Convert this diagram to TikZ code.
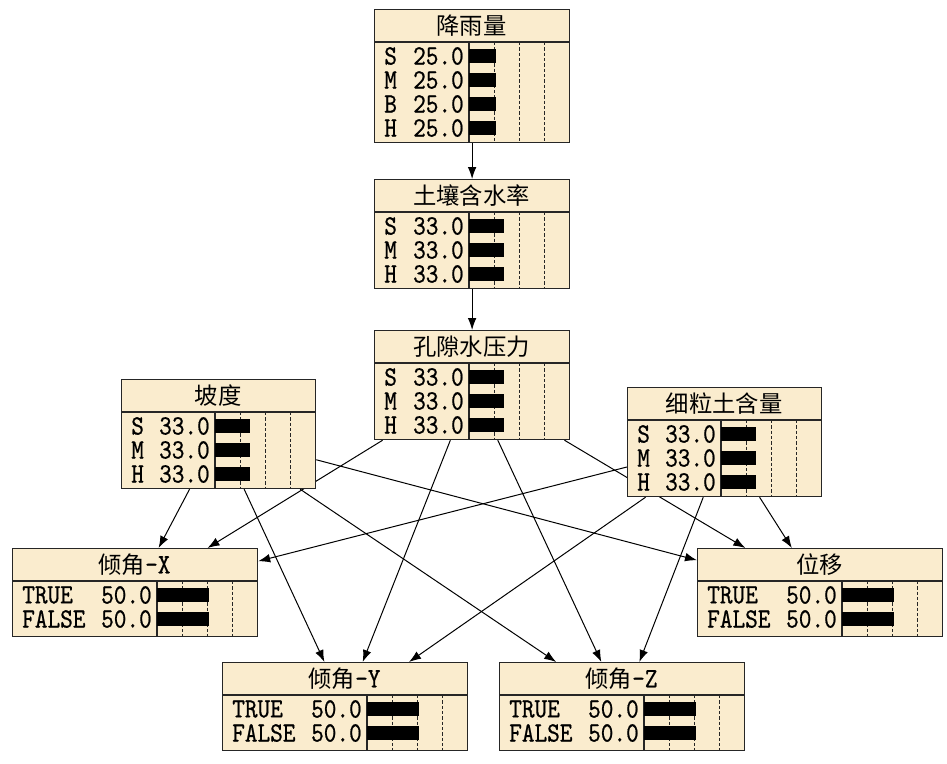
\documentclass[tikz,border=0pt]{standalone}
\usepackage{fontspec}
\newfontfamily\cjk{Noto Sans CJK SC}
\newfontfamily\latinfont[FakeStretch=0.86,FakeBold=0.6]{lmmono10-regular.otf}
\usetikzlibrary{arrows.meta}
\definecolor{bnfill}{RGB}{250,236,206}
\pgfdeclarelayer{back}
\pgfsetlayers{back,main}
\tikzset{
  bnbox/.style={draw=black!85, line width=0.9pt, fill=bnfill, inner sep=0pt, anchor=north west},
  bnline/.style={draw=black!85, line width=0.8pt},
  bndash/.style={draw=black!85, line width=0.6pt, dash pattern=on 2.5pt off 1.5pt},
  bntext/.style={inner sep=0pt, font=\latinfont\fontsize{21}{22}\selectfont},
  bnedge/.style={-{Latex[length=9pt,width=6.5pt]}, line width=0.75pt}
}
\newcommand{\zh}[1]{{\cjk\fontsize{17.5}{20}\selectfont #1}}
\newcommand{\bnnode}[7]{%
  \node[bnbox, minimum width=#4*0.75pt, minimum height=#5*0.75pt] (#1) at (#2,#3) {};
  \begin{scope}[shift={(#2,#3)}]
    \draw[bnline] (0,33) -- (#4,33);
    \draw[bnline] (#4-100,33) -- (#4-100,#5);
    \foreach \k in {1,2,3}
      \draw[bndash] (#4-100+25*\k,33) -- (#4-100+25*\k,#5);
    \node[bntext] at (#4/2,16.5) {#6};
    \foreach \s/\v [count=\i] in {#7} {
      \node[bntext, anchor=west] at (10,23+24*\i) {\s};
      \node[bntext, anchor=east] at (#4-105,23+24*\i) {\v};
      \fill (#4-100,16+24*\i) rectangle ++(\v+2,14);
    }
  \end{scope}}
\begin{document}
\begin{tikzpicture}[x=0.75pt, y=-0.75pt]
    \useasboundingbox (0,0) rectangle (947,764);
    \bnnode{rain}{374}{9}{195}{133}{\zh{降雨量}}{S/25.0, M/25.0, B/25.0, H/25.0}
    \bnnode{soil}{374}{179}{195}{109}{\zh{土壤含水率}}{S/33.0, M/33.0, H/33.0}
    \bnnode{pore}{374}{330}{195}{109}{\zh{孔隙水压力}}{S/33.0, M/33.0, H/33.0}
    \bnnode{slope}{121}{379}{194}{109}{\zh{坡度}}{S/33.0, M/33.0, H/33.0}
    \bnnode{fines}{627}{387}{194}{109}{\zh{细粒土含量}}{S/33.0, M/33.0, H/33.0}
    \bnnode{tiltx}{12}{548}{245}{88}{\zh{倾角}-X}{TRUE/50.0, FALSE/50.0}
    \bnnode{disp}{697}{548}{245}{88}{\zh{位移}}{TRUE/50.0, FALSE/50.0}
    \bnnode{tilty}{222}{662}{245}{88}{\zh{倾角}-Y}{TRUE/50.0, FALSE/50.0}
    \bnnode{tiltz}{499}{662}{245}{88}{\zh{倾角}-Z}{TRUE/50.0, FALSE/50.0}
    \begin{pgfonlayer}{back}
    \draw[bnedge] (rain) -- (soil);
    \draw[bnedge] (soil) -- (pore);
    \draw[bnedge] (slope) -- (tiltx);
    \draw[bnedge] (slope) -- (tilty);
    \draw[bnedge] (slope) -- (tiltz);
    \draw[bnedge] (slope) -- (disp);
    \draw[bnedge] (pore) -- (tiltx);
    \draw[bnedge] (pore) -- (tilty);
    \draw[bnedge] (pore) -- (tiltz);
    \draw[bnedge] (pore) -- (disp);
    \draw[bnedge] (fines) -- (tiltx);
    \draw[bnedge] (fines) -- (tilty);
    \draw[bnedge] (fines) -- (tiltz);
    \draw[bnedge] (fines) -- (disp);
    \end{pgfonlayer}
\end{tikzpicture}
\end{document}
